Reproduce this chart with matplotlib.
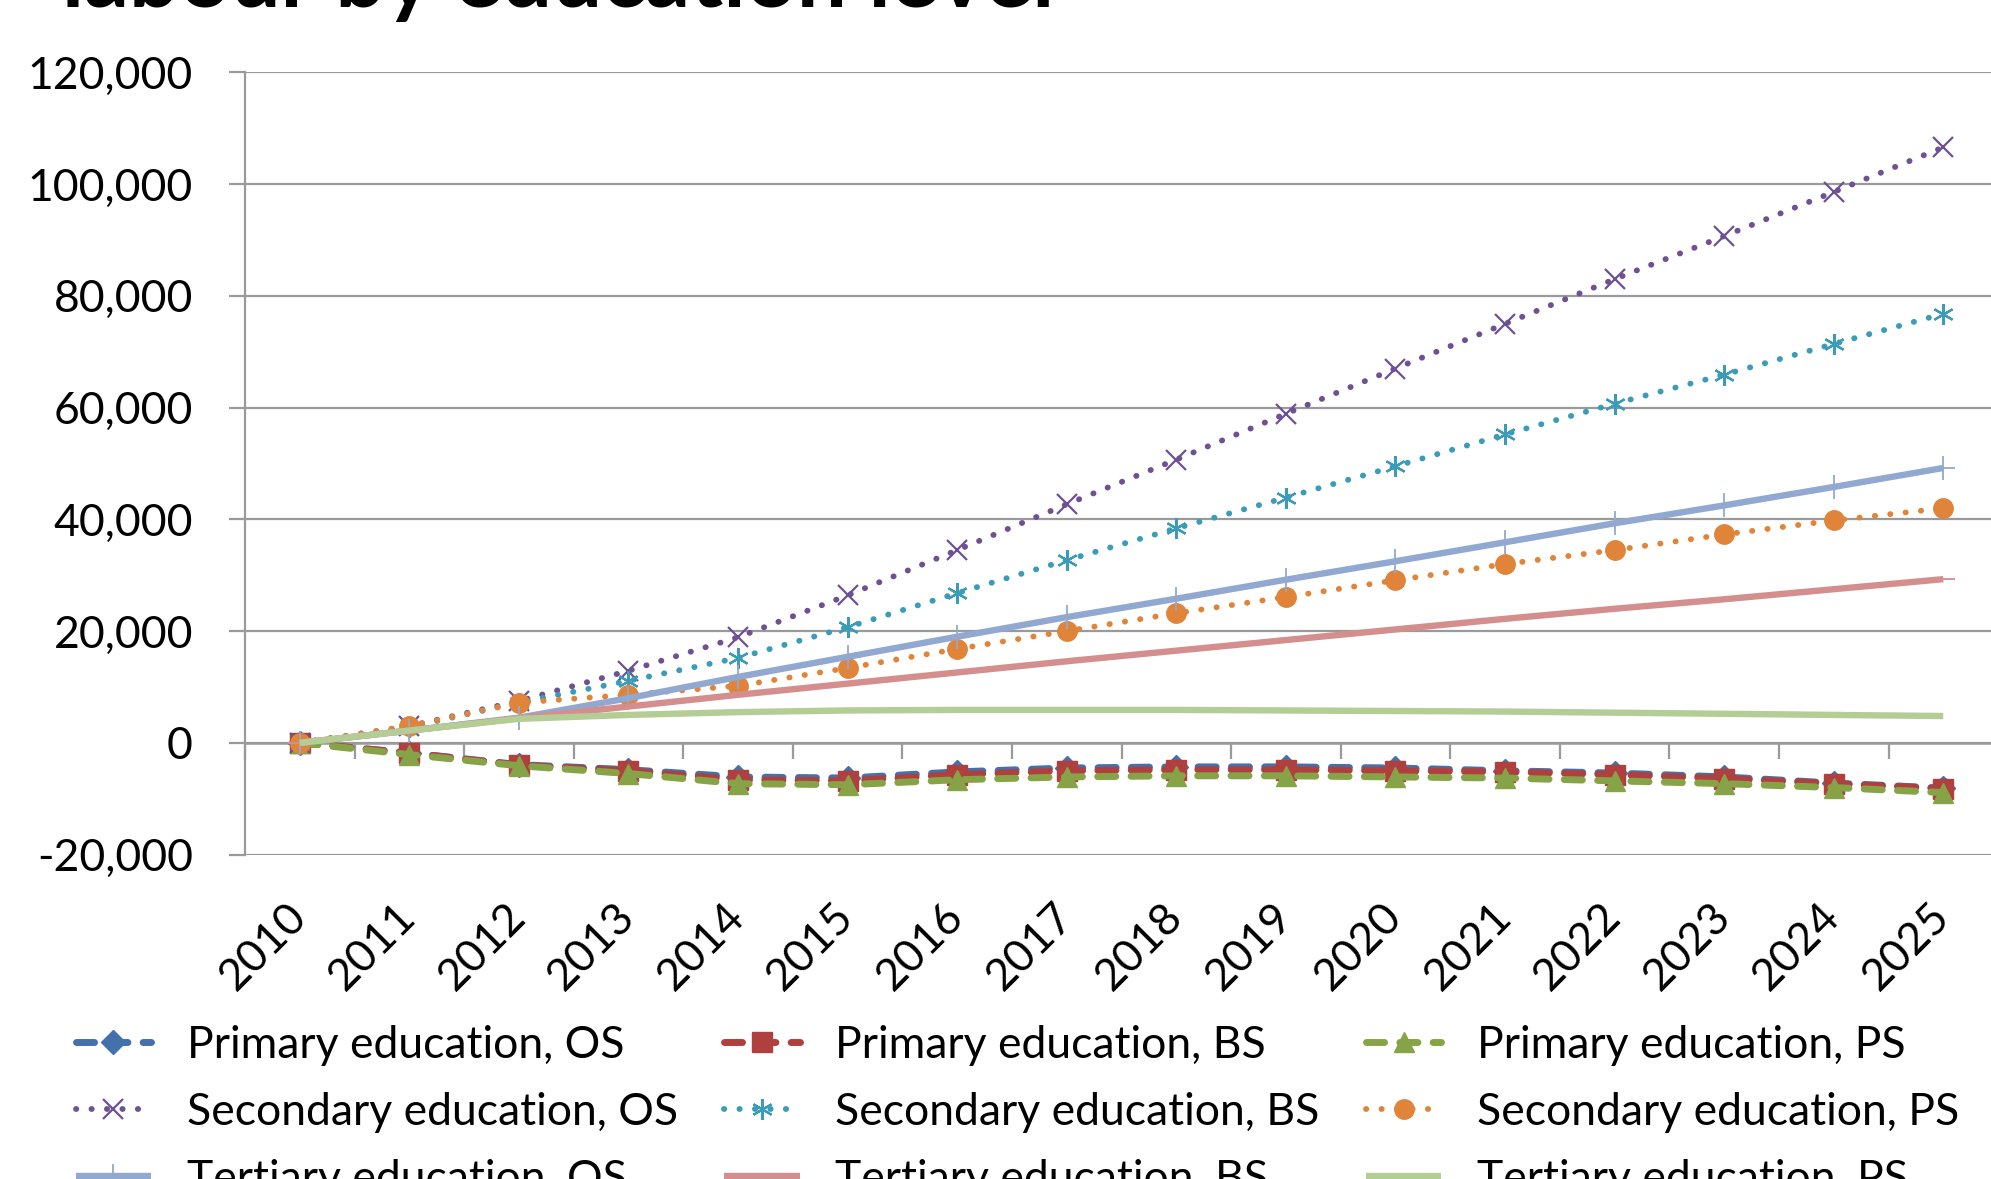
import matplotlib
matplotlib.use("Agg")
import matplotlib.pyplot as plt
from matplotlib.ticker import FuncFormatter
import numpy as np

plt.rcParams['font.family'] = ['Lato', 'DejaVu Sans']

years = [str(y) for y in range(2010, 2026)]

primary_os = [0, -1800, -3900, -4800, -6100, -6300, -5200, -4500, -4300, -4300, -4500, -5000, -5400, -6100, -7200, -8100]
primary_bs = [0, -1800, -4000, -5000, -6600, -6800, -5700, -5000, -4800, -4800, -5000, -5200, -5700, -6400, -7300, -8200]
primary_ps = [0, -2100, -4100, -5500, -7300, -7500, -6600, -6100, -5900, -5900, -6100, -6300, -6800, -7300, -8000, -8900]

secondary_os = [0, 3000, 7500, 12900, 18900, 26400, 34500, 42700, 50700, 58900, 67000, 75000, 83000, 90700, 98600, 106600]
secondary_bs = [0, 2800, 7200, 11100, 15200, 20700, 26800, 32700, 38400, 43900, 49500, 55200, 60700, 65900, 71400, 76800]
secondary_ps = [0, 3000, 7200, 8600, 10200, 13400, 16800, 20000, 23200, 26100, 29100, 32000, 34500, 37300, 39800, 42000]

tertiary_os = [0, 2200, 4500, 8000, 11800, 15400, 19000, 22500, 25800, 29200, 32500, 35900, 39300, 42500, 45800, 49200]
tertiary_bs = [0, 2200, 4400, 6500, 8600, 10600, 12600, 14600, 16500, 18400, 20300, 22200, 24000, 25700, 27500, 29300]
tertiary_ps = [0, 2200, 4300, 5000, 5500, 5800, 5900, 5900, 5900, 5800, 5700, 5600, 5400, 5200, 5000, 4800]

labels = ["Primary education, OS", "Primary education, BS", "Primary education, PS",
          "Secondary education, OS", "Secondary education, BS", "Secondary education, PS",
          "Tertiary education, OS", "Tertiary education, BS", "Tertiary education, PS"]

series = [primary_os, primary_bs, primary_ps,
          secondary_os, secondary_bs, secondary_ps,
          tertiary_os, tertiary_bs, tertiary_ps]

colors = ['#4470AC', '#B0403D', '#86A447',
          '#6E5192', '#3A9CB8', '#E0843A',
          '#91A8D0', '#D48E8E', '#B3CD95']

GRAY = '#9a9a9a'
FS = 32

fig = plt.figure(figsize=(19.91, 11.79), dpi=100)
ax = fig.add_axes([0.12305, 0.27515, 0.8805, 0.66344])

x = np.arange(len(years))

handles = []
for i, (vals, lab, col) in enumerate(zip(series, labels, colors)):
    group = i // 3
    kind = i % 3
    if group == 0:
        ls_kw = dict(linestyle=(0, (2.6, 2.2)), linewidth=5.0, dash_capstyle='round')
        marker = ['D', 's', '^'][kind]
        mk = dict(marker=marker, markersize=[12, 14, 15][kind], markerfacecolor=col,
                  markeredgecolor=col, markeredgewidth=1)
    elif group == 1:
        ls_kw = dict(linestyle=(0, (0.05, 2.6)), linewidth=4.2, dash_capstyle='round')
        marker = ['x', (6, 2, 0), 'o'][kind]
        mk = dict(marker=marker, markersize=[14, 15, 14][kind], markerfacecolor=col,
                  markeredgecolor=col, markeredgewidth=[1.6, 1.6, 1][kind])
    else:
        ls_kw = dict(linestyle='-', linewidth=4.6, solid_capstyle='butt')
        marker = ['+', '_', 'None'][kind]
        mk = dict(marker=marker, markersize=17, markerfacecolor=col,
                  markeredgecolor=col, markeredgewidth=1.3)
    ln, = ax.plot(x, vals, color=col, label=lab, zorder=3 + i, **ls_kw, **mk)
    handles.append(ln)

ax.set_xlim(-0.5, len(years) - 0.5)
ax.set_ylim(-20000, 120000)
ax.set_yticks(np.arange(-20000, 120001, 20000))
ax.yaxis.set_major_formatter(FuncFormatter(lambda v, p: f"{v:,.0f}"))
ax.yaxis.grid(True, color=GRAY, linewidth=1.6)
ax.set_axisbelow(True)

for s in ['top', 'right', 'bottom']:
    ax.spines[s].set_visible(False)
ax.spines['left'].set_color(GRAY)
ax.spines['left'].set_linewidth(1.6)

ax.tick_params(axis='y', direction='out', length=11.5, width=1.6, color=GRAY,
               pad=26, labelsize=FS)
ax.set_xticks(x)
ax.set_xticklabels(years)
ax.tick_params(axis='x', length=0, pad=40, labelsize=FS)
plt.setp(ax.get_xticklabels(), rotation=45, ha='right', va='center', rotation_mode='anchor')

# category axis crossing at zero, with ticks between categories
sec = ax.secondary_xaxis(20000 / 140000)
sec.set_xticks(np.arange(-0.5, len(years), 1.0))
sec.tick_params(axis='x', direction='out', length=11.5, width=1.6, color=GRAY,
                labelbottom=False, labeltop=False)
for s in sec.spines.values():
    s.set_color(GRAY)
    s.set_linewidth(1.8)

# legend ordered row-wise (3 per row)
order = [0, 3, 6, 1, 4, 7, 2, 5, 8]
leg = fig.legend([handles[k] for k in order], [labels[k] for k in order],
                 ncol=3, loc='upper left', bbox_to_anchor=(0.038, 0.131),
                 frameon=False, fontsize=FS, handlelength=1.7, handletextpad=0.8,
                 columnspacing=1.04, labelspacing=0.59, borderpad=0, borderaxespad=0)

fig.text(62 / 1991, 1 - 7 / 1179, "labour by education level", fontsize=64,
         fontweight='bold', ha='left', va='baseline')

fig.savefig("out.png", dpi=100)
